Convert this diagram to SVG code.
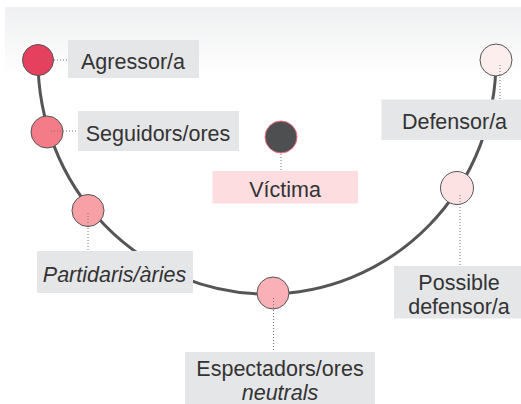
<svg xmlns="http://www.w3.org/2000/svg" width="521" height="404" viewBox="0 0 521 404">
<defs>
<linearGradient id="bg" x1="0" y1="0" x2="0" y2="1">
<stop offset="0" stop-color="#eff0f1"/>
<stop offset="1" stop-color="#ffffff"/>
</linearGradient>
</defs>
<style>
.lbl{fill:#e5e6e8}
.vic{fill:#fddde0}
.t{font-family:"Liberation Sans",Arial,sans-serif;font-size:21.5px;fill:#333;text-anchor:middle}
.i{font-style:italic}
.lead{stroke:#777;stroke-width:1;stroke-dasharray:1 2;fill:none}
.node{stroke:#555;stroke-width:1}
.curve{stroke:#555;stroke-width:3;fill:none}
</style>
<rect x="0" y="0" width="521" height="404" fill="#ffffff"/>
<rect x="5" y="7" width="516" height="70" fill="url(#bg)"/>
<g id="connectors">
<path class="curve" d="M 38 60 A 229 234 0 0 0 496 60"/>
</g>
<g id="agressor">
<circle class="node" cx="38" cy="60" r="15.5" fill="#e6405f"/>
<line class="lead" x1="42" y1="60" x2="68" y2="60"/>
<rect class="lbl" x="68" y="40" width="131" height="38"/>
<text class="t" x="133" y="69">Agressor/a</text>
</g>
<g id="seguidors">
<circle class="node" cx="47" cy="132" r="16" fill="#f47c88"/>
<line class="lead" x1="51" y1="131" x2="78" y2="131"/>
<rect class="lbl" x="78" y="111" width="161" height="40"/>
<text class="t" x="158" y="141">Seguidors/ores</text>
</g>
<g id="victima">
<circle cx="281" cy="137" r="16" fill="#4e4f51" stroke="#f06a80" stroke-width="1"/>
<line class="lead" x1="281" y1="154" x2="281" y2="171"/>
<rect class="vic" x="212.5" y="171" width="145.5" height="32.5"/>
<text class="t" x="285" y="197">Víctima</text>
</g>
<g id="defensor">
<circle class="node" cx="496" cy="60" r="16" fill="#fdeeee"/>
<line class="lead" x1="500" y1="65" x2="500" y2="100"/>
<rect class="lbl" x="381.5" y="99.5" width="139.5" height="40.5"/>
<text class="t" x="454.5" y="129">Defensor/a</text>
</g>
<g id="partidaris">
<circle class="node" cx="88" cy="210.5" r="16" fill="#f7a1a7"/>
<line class="lead" x1="88" y1="213" x2="88" y2="251"/>
<rect class="lbl" x="37" y="251" width="156" height="42"/>
<text class="t i" x="114.5" y="282">Partidaris/àries</text>
</g>
<g id="espectadors">
<circle class="node" cx="273" cy="293" r="16" fill="#f9b0b6"/>
<line class="lead" x1="273.5" y1="298" x2="273.5" y2="352"/>
<rect class="lbl" x="185" y="352" width="190" height="52"/>
<text class="t" x="280" y="376">Espectadors/ores</text>
<text class="t i" x="280" y="400">neutrals</text>
</g>
<g id="possible">
<circle class="node" cx="457" cy="188" r="16.5" fill="#fde2e4"/>
<line class="lead" x1="460" y1="195" x2="460" y2="266"/>
<rect class="lbl" x="394" y="266" width="127" height="52.5"/>
<text class="t" x="459" y="290">Possible</text>
<text class="t" x="459" y="314">defensor/a</text>
</g>
</svg>
